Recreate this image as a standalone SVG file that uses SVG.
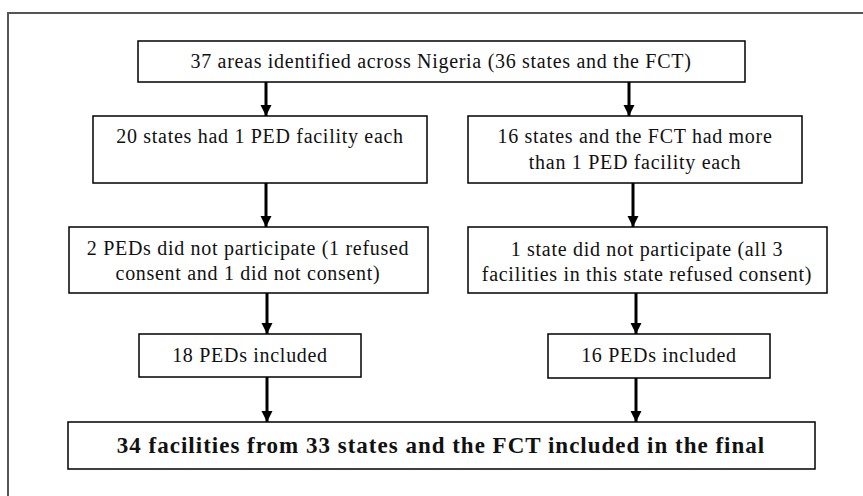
<svg xmlns="http://www.w3.org/2000/svg" width="863" height="496" viewBox="0 0 863 496">
<style>
  .box{fill:#fff;stroke:#000;stroke-width:1.5}
  .t{font-family:"Liberation Serif","Times New Roman",serif;font-size:20px;letter-spacing:0.7px;fill:#111;text-anchor:middle}
  .b{font-family:"Liberation Serif","Times New Roman",serif;font-size:23px;letter-spacing:1px;font-weight:bold;fill:#111;text-anchor:middle}
  .c{stroke:#000;stroke-width:3;fill:none}
</style>
<defs>
  <marker id="ah" markerUnits="userSpaceOnUse" markerWidth="12" markerHeight="12" viewBox="0 0 12 12" refX="11" refY="6" orient="auto">
    <path d="M0,0.5 L11,6 L0,11.5 Z" fill="#000"/>
  </marker>
</defs>
<rect width="863" height="496" fill="#fff"/>
<path d="M8,496 V13 H863" fill="none" stroke="#555" stroke-width="2"/>

<g id="n1"><rect class="box" x="138" y="41" width="607" height="41"/>
<text class="t" x="441" y="68">37 areas identified across Nigeria (36 states and the FCT)</text></g>

<g id="n2"><rect class="box" x="93" y="116" width="334" height="67"/>
<text class="t" x="260" y="143">20 states had 1 PED facility each</text></g>

<g id="n3"><rect class="box" x="468" y="116" width="334" height="67"/>
<text class="t" x="635" y="143">16 states and the FCT had more</text>
<text class="t" x="635" y="169">than 1 PED facility each</text></g>

<g id="n4"><rect class="box" x="69" y="227" width="359" height="66"/>
<text class="t" x="248" y="255">2 PEDs did not participate (1 refused</text>
<text class="t" x="248" y="280">consent and 1 did not consent)</text></g>

<g id="n5"><rect class="box" x="468" y="227" width="359" height="66"/>
<text class="t" x="647" y="256">1 state did not participate (all 3</text>
<text class="t" x="647" y="281">facilities in this state refused consent)</text></g>

<g id="n6"><rect class="box" x="139" y="334" width="222" height="43"/>
<text class="t" x="250" y="362">18 PEDs included</text></g>

<g id="n7"><rect class="box" x="548" y="334" width="222" height="44"/>
<text class="t" x="659" y="362">16 PEDs included</text></g>

<g id="n8"><rect class="box" x="68" y="422" width="747" height="47"/>
<text class="b" x="441" y="453">34 facilities from 33 states and the FCT included in the final</text></g>

<g id="connectors" class="c">
  <line x1="266" y1="82" x2="266" y2="116" marker-end="url(#ah)"/>
  <line x1="629" y1="82" x2="629" y2="116" marker-end="url(#ah)"/>
  <line x1="266" y1="183" x2="266" y2="227" marker-end="url(#ah)"/>
  <line x1="633" y1="183" x2="633" y2="227" marker-end="url(#ah)"/>
  <line x1="267" y1="293" x2="267" y2="334" marker-end="url(#ah)"/>
  <line x1="636" y1="293" x2="636" y2="334" marker-end="url(#ah)"/>
  <line x1="267" y1="377" x2="267" y2="422" marker-end="url(#ah)"/>
  <line x1="636" y1="378" x2="636" y2="422" marker-end="url(#ah)"/>
</g>
</svg>
